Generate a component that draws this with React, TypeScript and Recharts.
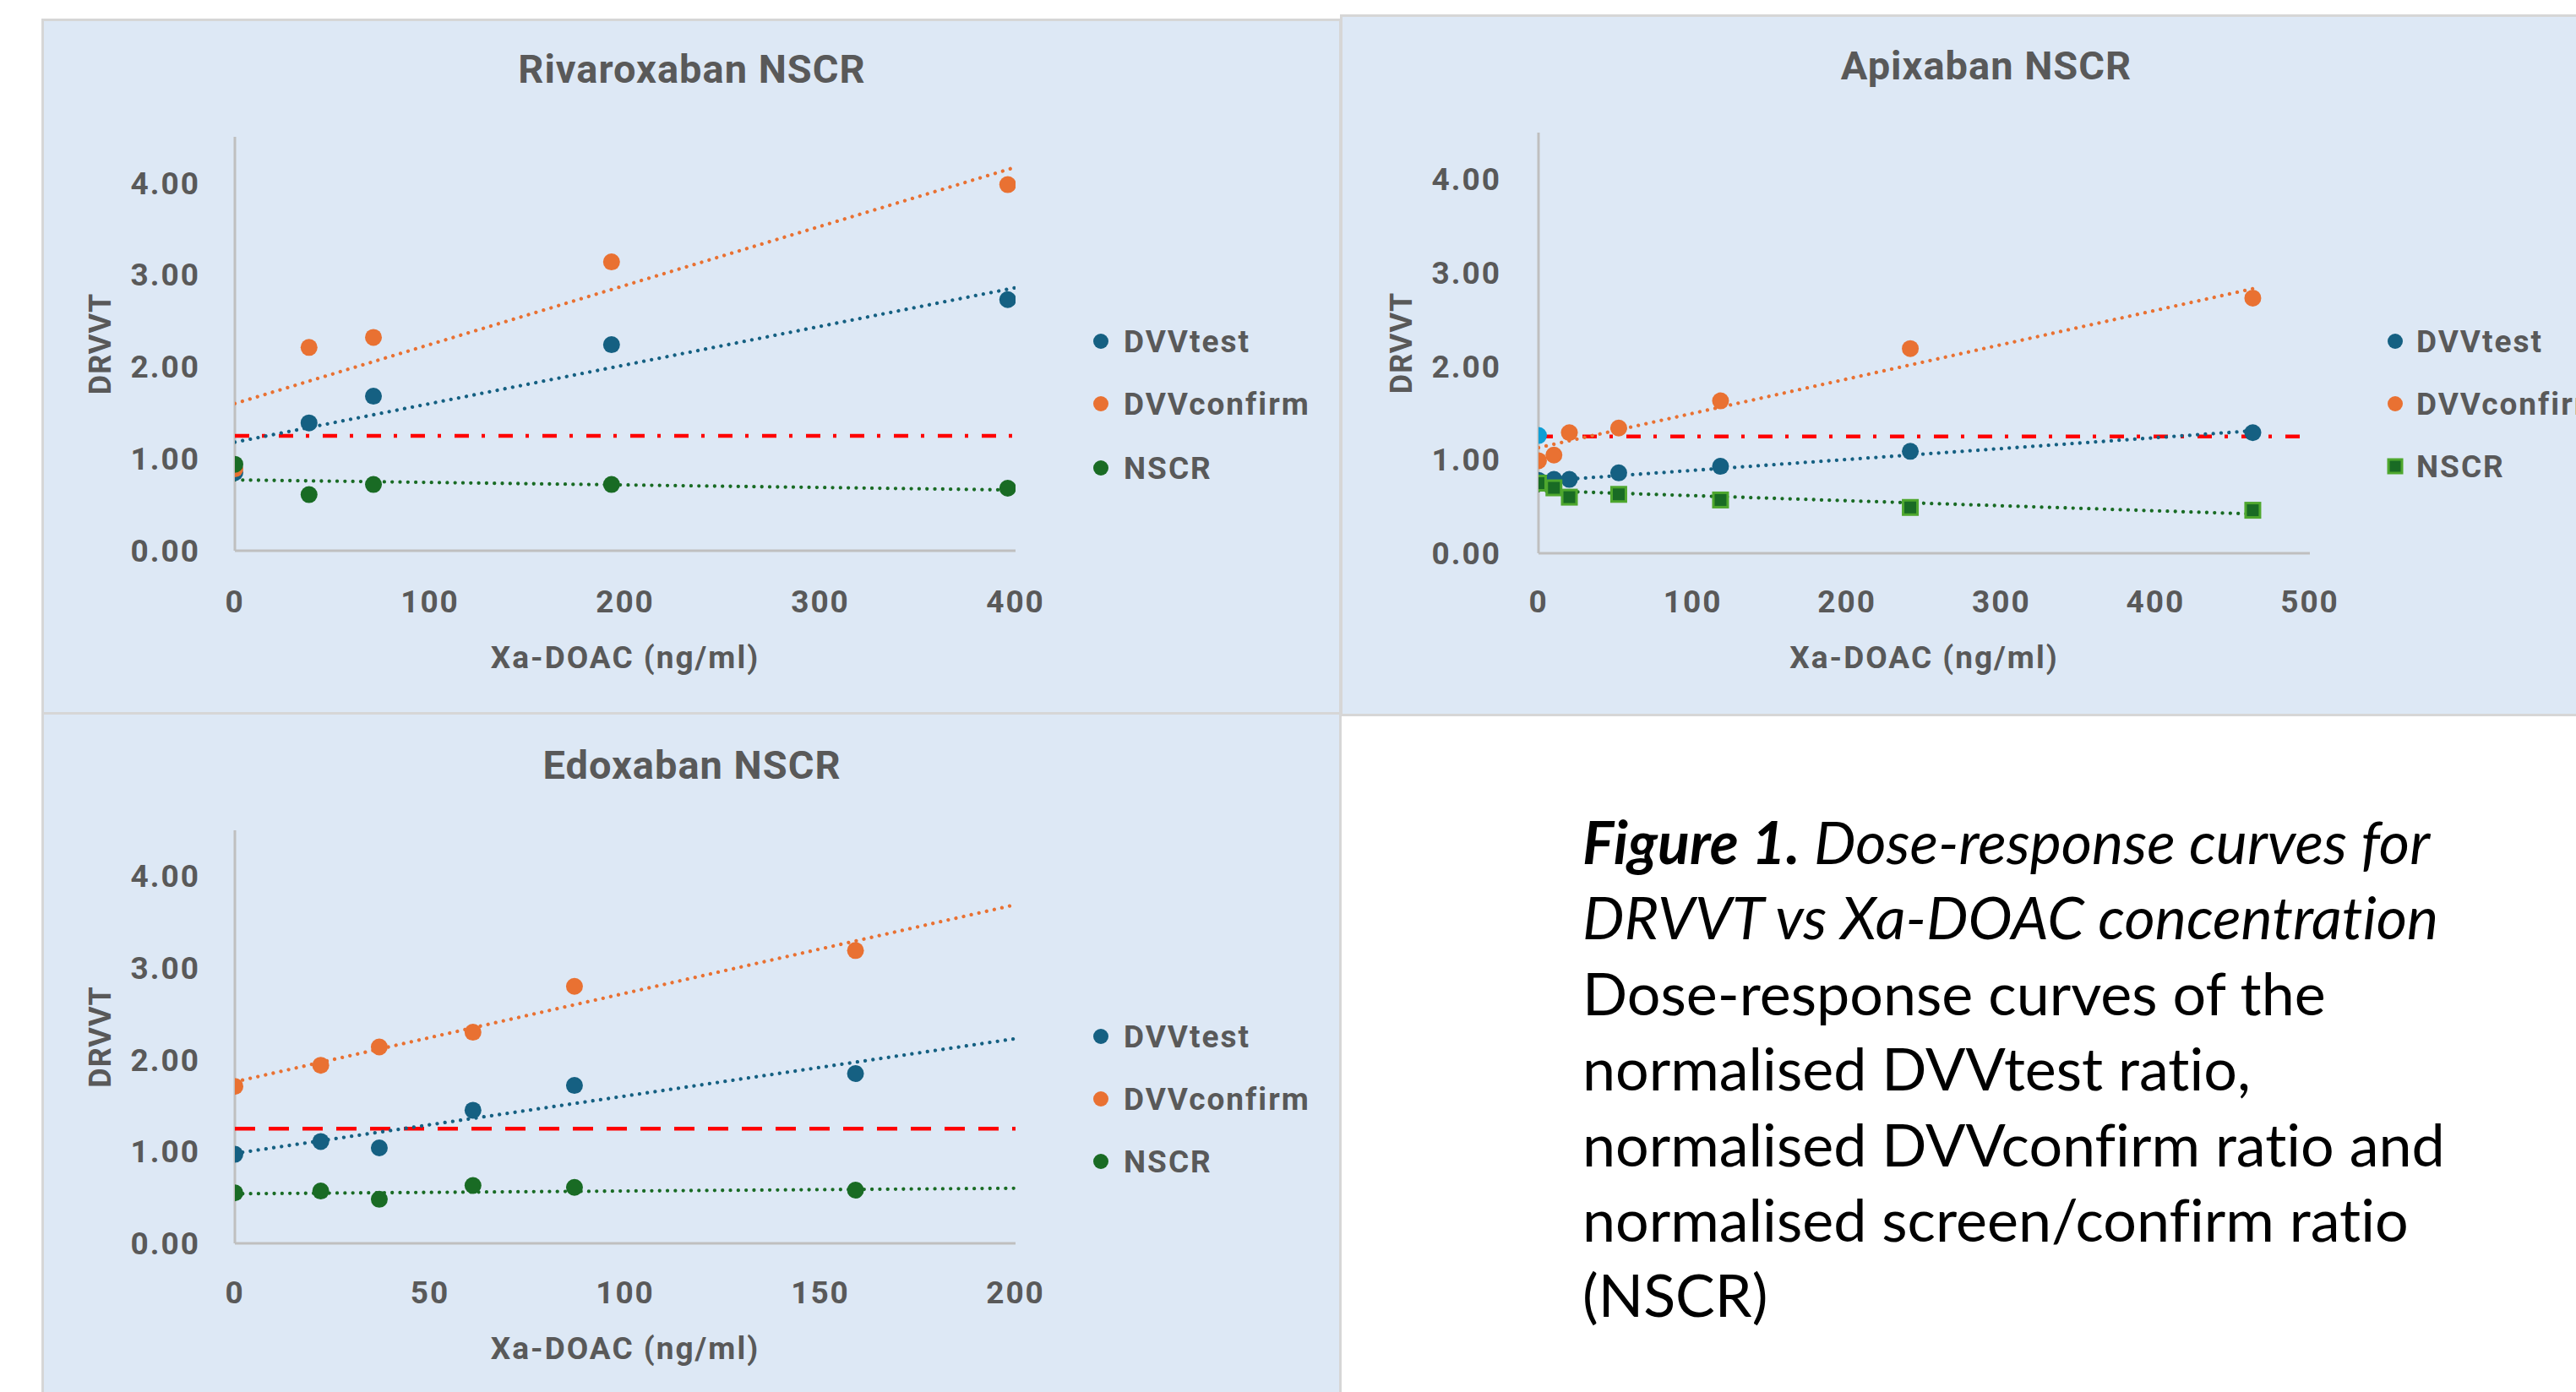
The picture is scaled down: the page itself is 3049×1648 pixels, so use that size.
import React from 'react';
import { ScatterChart, Scatter, XAxis, YAxis, Legend } from 'recharts';

// ---------- colours ----------
const BLUE = '#156082';
const ORANGE = '#E97132';
const GREEN = '#196B24';
const LIGHT_GREEN = '#4EA72E';
const LIGHT_BLUE = '#0F9ED5';
const RED = '#FF0000';
const TEXT = '#595959';
const BG = '#DDE8F5';
const BORDER = '#D6D6D6';
const AXIS = '#BFBFBF';
const FONT = 'Roboto, "DejaVu Sans", sans-serif';

// ---------- data: Rivaroxaban ----------
const rivaX = [0, 38, 71, 193, 396];
const rivaDVVtest = [0.85, 1.39, 1.68, 2.24, 2.73];
const rivaDVVconfirm = [0.89, 2.21, 2.32, 3.14, 3.98];
const rivaNSCR = [0.94, 0.61, 0.72, 0.72, 0.68];
const rivaTrendX = [0, 400];
const rivaTrendDVVtest = [1.18, 2.86];
const rivaTrendDVVconfirm = [1.6, 4.17];
const rivaTrendNSCR = [0.77, 0.66];
const rivaXTicks = [0, 100, 200, 300, 400];

// ---------- data: Apixaban ----------
const apixX = [0, 10, 20, 52, 118, 241, 463];
const apixDVVtest = [0.78, 0.79, 0.79, 0.86, 0.93, 1.09, 1.29];
const apixDVVconfirm = [0.99, 1.05, 1.29, 1.34, 1.63, 2.19, 2.73];
const apixNSCR = [0.75, 0.7, 0.6, 0.63, 0.57, 0.49, 0.46];
const apixTrendX = [0, 463];
const apixTrendDVVtest = [0.77, 1.31];
const apixTrendDVVconfirm = [1.13, 2.83];
const apixTrendNSCR = [0.67, 0.42];
const apixCutoffMarkerX = [0];
const apixCutoffMarkerY = [1.26];
const apixXTicks = [0, 100, 200, 300, 400, 500];

// ---------- data: Edoxaban ----------
const edoxX = [0, 22, 37, 61, 87, 159];
const edoxDVVtest = [0.97, 1.11, 1.04, 1.45, 1.72, 1.85];
const edoxDVVconfirm = [1.71, 1.94, 2.14, 2.3, 2.8, 3.19];
const edoxNSCR = [0.55, 0.57, 0.48, 0.63, 0.61, 0.58];
const edoxTrendX = [0, 200];
const edoxTrendDVVtest = [0.98, 2.23];
const edoxTrendDVVconfirm = [1.76, 3.69];
const edoxTrendNSCR = [0.54, 0.6];
const edoxXTicks = [0, 50, 100, 150, 200];

// ---------- shared ----------
const cutoffValue = 1.25;
const yTicks = [0, 1, 2, 3, 4];
const yDomain = [0, 4.5];
const legendNames = ['DVVtest', 'DVVconfirm', 'NSCR'];
const seriesColors = [BLUE, ORANGE, GREEN];

const captionLines = [
  'Dose-response curves of the',
  'normalised DVVtest ratio,',
  'normalised DVVconfirm ratio and',
  'normalised screen/confirm ratio',
  '(NSCR)',
];

const toPts = (xs: number[], ys: number[]) => xs.map((x, i) => ({ x, y: ys[i] }));

const dotShape = (color: string, r = 10) => (p: any) => (
  <circle cx={p.cx} cy={p.cy} r={r} fill={color} />
);
const squareShape = (p: any) => (
  <rect x={p.cx - 8.5} y={p.cy - 8.5} width={17} height={17} fill={GREEN} stroke={LIGHT_GREEN} strokeWidth={3} />
);
const noShape = () => <g />;

const trendLine = (color: string) => ({
  stroke: color,
  strokeWidth: 4.3,
  strokeDasharray: '0.01 9.3',
  strokeLinecap: 'round',
  fill: 'none',
});

type PanelCfg = {
  title: string;
  titleX: number;
  titleY: number;
  box: { left: number; top: number; width: number; height: number };
  plot: { left: number; right: number; top: number; bottom: number };
  xDomain: [number, number];
  xTicks: number[];
  xs: number[];
  test: number[];
  confirm: number[];
  nscr: number[];
  trendX: number[];
  trendTest: number[];
  trendConfirm: number[];
  trendNscr: number[];
  cutoffDash: string;
  squares?: boolean;
  cutoffMarker?: { xs: number[]; ys: number[] };
  yTickGap: number;
  xTickCenterY: number;
  yLabelX: number;
  xTitleY: number;
  legend: { markerX: number; textX: number; ys: number[] };
};

const YW = 100;
const XH = 120;
const TICK_FS = 37;

function Panel({ cfg }: { cfg: PanelCfg }) {
  const { box, plot } = cfg;
  const margin = {
    left: plot.left - box.left - YW,
    top: plot.top - box.top,
    right: box.left + box.width - plot.right,
    bottom: box.top + box.height - plot.bottom - XH,
  };
  const tickStyle = { fill: TEXT, fontSize: TICK_FS, fontFamily: FONT, fontWeight: 'bold', letterSpacing: 2 };
  const plotCx = (plot.left + plot.right) / 2 - box.left;
  const plotCy = (plot.top + plot.bottom) / 2 - box.top;

  const xLabel = () => (
    <text
      x={plotCx}
      y={cfg.xTitleY - box.top}
      textAnchor="middle"
      dominantBaseline="central"
      fill={TEXT}
      fontSize={TICK_FS}
      fontFamily={FONT}
      fontWeight="bold"
      letterSpacing={2}
    >
      Xa-DOAC (ng/ml)
    </text>
  );
  const yLabel = () => {
    const lx = cfg.yLabelX - box.left;
    return (
      <text
        x={lx}
        y={plotCy}
        transform={`rotate(-90, ${lx}, ${plotCy})`}
        textAnchor="middle"
        dominantBaseline="central"
        fill={TEXT}
        fontSize={36}
        fontFamily={FONT}
        fontWeight="bold"
        letterSpacing={1}
      >
        DRVVT
      </text>
    );
  };

  const lg = cfg.legend;
  const legendContent = () => (
    <svg width={320} height={240} style={{ display: 'block', overflow: 'visible' }}>
      {legendNames.map((name, i) => {
        const cy = 30 + (lg.ys[i] - lg.ys[0]);
        const mx = 12;
        return (
          <g key={name}>
            {cfg.squares && i === 2 ? (
              <rect x={mx - 8} y={cy - 8} width={16} height={16} fill={GREEN} stroke={LIGHT_GREEN} strokeWidth={3} />
            ) : (
              <circle cx={mx} cy={cy} r={9} fill={seriesColors[i]} />
            )}
            <text
              x={mx + (lg.textX - lg.markerX)}
              y={cy}
              dominantBaseline="central"
              fill={TEXT}
              fontSize={TICK_FS}
              fontFamily={FONT}
              fontWeight="bold"
              letterSpacing={2}
            >
              {name}
            </text>
          </g>
        );
      })}
    </svg>
  );

  const cutoffPts = toPts(cfg.xDomain, [cutoffValue, cutoffValue]);

  return (
    <div style={{ position: 'absolute', left: box.left, top: box.top, width: box.width, height: box.height }}>
      <div
        style={{
          position: 'absolute',
          left: cfg.titleX - box.left - 400,
          top: cfg.titleY - box.top - 30,
          width: 800,
          height: 60,
          lineHeight: '60px',
          textAlign: 'center',
          fontFamily: FONT,
          fontWeight: 'bold',
          fontSize: 47,
          letterSpacing: 1,
          color: TEXT,
          whiteSpace: 'nowrap',
        }}
      >
        {cfg.title}
      </div>
      <ScatterChart width={box.width} height={box.height} margin={margin}>
        <XAxis
          type="number"
          dataKey="x"
          domain={cfg.xDomain}
          ticks={cfg.xTicks}
          interval={0}
          allowDataOverflow
          height={XH}
          tickLine={false}
          tickSize={0}
          tickMargin={cfg.xTickCenterY - 13 - plot.bottom}
          axisLine={{ stroke: AXIS, strokeWidth: 3 }}
          tick={tickStyle}
          label={xLabel}
        />
        <YAxis
          type="number"
          dataKey="y"
          domain={yDomain}
          ticks={yTicks}
          interval={0}
          allowDataOverflow
          width={YW}
          tickLine={false}
          tickSize={0}
          tickMargin={cfg.yTickGap}
          axisLine={{ stroke: AXIS, strokeWidth: 3 }}
          tick={tickStyle}
          tickFormatter={(v: number) => v.toFixed(2)}
          label={yLabel}
        />
        <Legend
          layout="vertical"
          align="center"
          verticalAlign="middle"
          content={legendContent}
          wrapperStyle={{
            left: lg.markerX - 12 - box.left,
            top: lg.ys[0] - 30 - box.top,
            width: 320,
            height: 240,
          }}
        />
        <Scatter
          data={cutoffPts}
          legendType="none"
          isAnimationActive={false}
          shape={noShape}
          line={{ stroke: RED, strokeWidth: 4.5, strokeDasharray: cfg.cutoffDash, fill: 'none' }}
        />
        <Scatter data={toPts(cfg.trendX, cfg.trendTest)} legendType="none" isAnimationActive={false} shape={noShape} line={trendLine(BLUE)} />
        <Scatter data={toPts(cfg.trendX, cfg.trendConfirm)} legendType="none" isAnimationActive={false} shape={noShape} line={trendLine(ORANGE)} />
        <Scatter data={toPts(cfg.trendX, cfg.trendNscr)} legendType="none" isAnimationActive={false} shape={noShape} line={trendLine(GREEN)} />
        {cfg.cutoffMarker && (
          <Scatter
            data={toPts(cfg.cutoffMarker.xs, cfg.cutoffMarker.ys)}
            legendType="none"
            isAnimationActive={false}
            shape={dotShape(LIGHT_BLUE)}
          />
        )}
        <Scatter name="DVVtest" data={toPts(cfg.xs, cfg.test)} legendType="none" isAnimationActive={false} shape={dotShape(BLUE)} />
        <Scatter name="DVVconfirm" data={toPts(cfg.xs, cfg.confirm)} legendType="none" isAnimationActive={false} shape={dotShape(ORANGE)} />
        <Scatter
          name="NSCR"
          data={toPts(cfg.xs, cfg.nscr)}
          legendType="none"
          isAnimationActive={false}
          shape={cfg.squares ? squareShape : dotShape(GREEN)}
        />
      </ScatterChart>
    </div>
  );
}

const rivaCfg: PanelCfg = {
  title: 'Rivaroxaban NSCR',
  titleX: 819,
  titleY: 82,
  box: { left: 52, top: 25, width: 1533, height: 818 },
  plot: { left: 278, right: 1202, top: 162, bottom: 652 },
  xDomain: [0, 400],
  xTicks: rivaXTicks,
  xs: rivaX,
  test: rivaDVVtest,
  confirm: rivaDVVconfirm,
  nscr: rivaNSCR,
  trendX: rivaTrendX,
  trendTest: rivaTrendDVVtest,
  trendConfirm: rivaTrendDVVconfirm,
  trendNscr: rivaTrendNSCR,
  cutoffDash: '17 15 4 16',
  yTickGap: 41,
  xTickCenterY: 712,
  yLabelX: 119,
  xTitleY: 778,
  legend: { markerX: 1303, textX: 1330, ys: [404, 478, 554] },
};

const apixCfg: PanelCfg = {
  title: 'Apixaban NSCR',
  titleX: 2351,
  titleY: 78,
  box: { left: 1590, top: 20, width: 1459, height: 825 },
  plot: { left: 1821, right: 2734, top: 157, bottom: 655 },
  xDomain: [0, 500],
  xTicks: apixXTicks,
  xs: apixX,
  test: apixDVVtest,
  confirm: apixDVVconfirm,
  nscr: apixNSCR,
  trendX: apixTrendX,
  trendTest: apixTrendDVVtest,
  trendConfirm: apixTrendDVVconfirm,
  trendNscr: apixTrendNSCR,
  cutoffDash: '17 15 4 16',
  squares: true,
  cutoffMarker: { xs: apixCutoffMarkerX, ys: apixCutoffMarkerY },
  yTickGap: 44,
  xTickCenterY: 712,
  yLabelX: 1659,
  xTitleY: 778,
  legend: { markerX: 2835, textX: 2860, ys: [404, 478, 552] },
};

const edoxCfg: PanelCfg = {
  title: 'Edoxaban NSCR',
  titleX: 819,
  titleY: 906,
  box: { left: 52, top: 847, width: 1533, height: 801 },
  plot: { left: 278, right: 1202, top: 983, bottom: 1472 },
  xDomain: [0, 200],
  xTicks: edoxXTicks,
  xs: edoxX,
  test: edoxDVVtest,
  confirm: edoxDVVconfirm,
  nscr: edoxNSCR,
  trendX: edoxTrendX,
  trendTest: edoxTrendDVVtest,
  trendConfirm: edoxTrendDVVconfirm,
  trendNscr: edoxTrendNSCR,
  cutoffDash: '24 16',
  yTickGap: 41,
  xTickCenterY: 1530,
  yLabelX: 119,
  xTitleY: 1596,
  legend: { markerX: 1303, textX: 1330, ys: [1227, 1301, 1375] },
};

export default function App() {
  const captionFont = 'Lato, "Open Sans", sans-serif';
  const lineH = 89.4;
  const capTop = 952;
  return (
    <div
      style={{
        position: 'fixed',
        left: 0,
        top: 0,
        width: 3049,
        height: 1648,
        background: '#FFFFFF',
        overflow: 'hidden',
      }}
    >
      {/* panel backgrounds */}
      <div style={{ position: 'absolute', left: 49, top: 22, width: 1539, height: 825, background: BG, border: `3px solid ${BORDER}`, boxSizing: 'border-box' }} />
      <div style={{ position: 'absolute', left: 1586, top: 17, width: 1480, height: 831, background: BG, border: `3px solid ${BORDER}`, boxSizing: 'border-box' }} />
      <div style={{ position: 'absolute', left: 49, top: 843, width: 1539, height: 830, background: BG, border: `3px solid ${BORDER}`, boxSizing: 'border-box' }} />

      <Panel cfg={rivaCfg} />
      <Panel cfg={apixCfg} />
      <Panel cfg={edoxCfg} />

      {/* caption */}
      <div
        style={{
          position: 'absolute',
          left: 1873,
          top: capTop,
          fontFamily: captionFont,
          fontSize: 70,
          lineHeight: `${lineH}px`,
          color: '#000',
          whiteSpace: 'nowrap',
          fontVariantLigatures: 'none',
        }}
      >
        <div style={{ fontStyle: 'italic' }}>
          <span style={{ fontWeight: 'bold' }}>Figure 1.</span> Dose-response curves for
        </div>
        <div style={{ fontStyle: 'italic' }}>DRVVT vs Xa-DOAC concentration</div>
        {captionLines.map((l) => (
          <div key={l}>{l}</div>
        ))}
      </div>
    </div>
  );
}
